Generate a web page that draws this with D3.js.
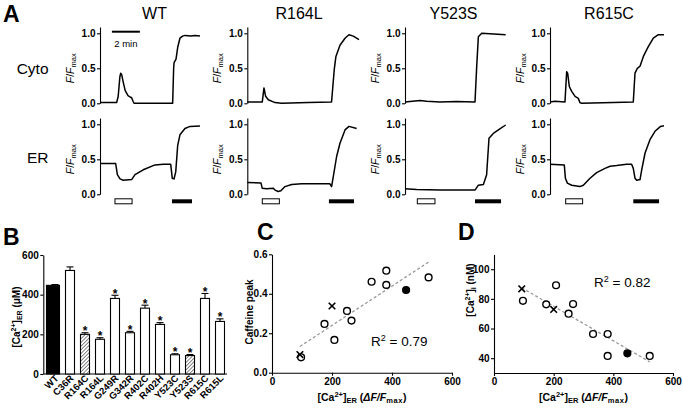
<!DOCTYPE html>
<html><head><meta charset="utf-8">
<script src="https://cdn.jsdelivr.net/npm/d3@7"></script>
<style>
body{margin:0;background:#fff}
svg{display:block}
text{font-family:"Liberation Sans",Arial,Helvetica,sans-serif;fill:#000}
</style>
</head><body>
<svg id="chart" width="683" height="409"></svg>
<script>
// ---------------- DATA ----------------
// Panel A: traces [time (min), F/Fmax]
const columnsA = ["WT", "R164L", "Y523S", "R615C"];
const rowsA = ["Cyto", "ER"];
const ticksA = [0, 0.5, 1.0];

const wtCyto = [[0,0.01],[1.19,0.01],[1.3,0.1],[1.42,0.38],[1.48,0.43],[1.55,0.41],[1.65,0.31],[1.8,0.18],[2.0,0.11],[2.15,0.09],[2.26,0.08],[2.36,0.03],[2.43,0.0],[5.19,0.0],[5.26,0.5],[5.29,0.58],[5.43,0.63],[5.55,0.8],[5.71,0.93],[5.9,0.96],[6.07,0.97],[6.5,0.96],[6.8,0.97],[7.14,0.96]];
const wtER = [[0,0.44],[1.12,0.44],[1.24,0.28],[1.43,0.22],[1.66,0.2],[2.26,0.21],[2.5,0.28],[3.09,0.35],[3.93,0.42],[4.52,0.43],[5.05,0.43],[5.16,0.23],[5.29,0.22],[5.41,0.32],[5.55,0.7],[5.71,0.85],[6.07,0.94],[6.43,0.97],[7.14,0.975]];
const r164lCyto = [[0,0.02],[1.07,0.02],[1.19,0.22],[1.31,0.1],[1.5,0.05],[1.98,0.01],[2.45,0.0],[4.36,0.01],[6.02,0.02],[6.21,0.48],[6.33,0.67],[6.62,0.83],[6.98,0.93],[7.26,0.98],[7.57,0.96],[7.98,0.91]];
const r164lER = [[0,0.17],[0.98,0.16],[1.07,0.085],[1.38,0.08],[1.86,0.085],[1.98,0.06],[2.21,0.04],[2.4,0.05],[2.69,0.11],[3.17,0.14],[3.88,0.15],[5.55,0.15],[5.9,0.15],[6.02,0.11],[6.14,0.25],[6.38,0.54],[6.62,0.73],[6.98,0.92],[7.26,0.97],[7.81,0.94]];
const y523sCyto = [[0,0.02],[1.07,0.04],[1.55,0.03],[2.5,0.02],[3.69,0.025],[5.0,0.02],[5.12,0.52],[5.24,0.95],[5.48,1.0],[7.19,0.98]];
const y523sER = [[0,0.08],[0.83,0.07],[2.5,0.06],[5.0,0.06],[5.24,0.13],[5.6,0.14],[5.83,0.28],[6.0,0.8],[6.31,0.87],[6.67,0.92],[7.19,0.99]];
const r615cCyto = [[0,0.02],[0.36,0.03],[1.07,0.02],[1.19,0.45],[1.26,0.43],[1.38,0.24],[1.55,0.17],[1.79,0.1],[2.02,0.07],[2.14,0.01],[2.26,0.0],[4.52,0.01],[5.95,0.02],[6.07,0.43],[6.24,0.5],[6.43,0.53],[6.67,0.67],[7.02,0.81],[7.38,0.93],[7.74,0.98],[8.14,0.98]];
const r615cER = [[0,0.43],[1.02,0.42],[1.1,0.23],[1.24,0.16],[1.55,0.13],[1.9,0.12],[2.14,0.11],[2.38,0.13],[2.86,0.23],[3.33,0.31],[3.93,0.37],[4.29,0.4],[4.76,0.41],[5.48,0.43],[5.83,0.43],[5.95,0.37],[6.07,0.23],[6.19,0.2],[6.43,0.21],[6.55,0.35],[6.79,0.59],[7.14,0.78],[7.5,0.9],[7.9,0.97],[8.14,0.98]];
// stimulus periods (min): caffeine (open bar) and ionomycin (filled bar)
const caffeineBars = [[1.07,2.29],[1.07,2.29],[0.88,2.14],[1.12,2.33]];
const ionoBars = [[5.14,6.57],[5.83,7.62],[5.0,6.86],[5.95,7.79]];

// Panel B
const mutants = ["WT","C36R","R164C","R164L","G249R","G342R","R402C","R402H","Y523C","Y523S","R615C","R615L"];
const caER = [447, 522, 200, 175, 381, 208, 332, 250, 97, 93, 381, 265];
const caERerr = [4, 18, 8, 8, 16, 7, 15, 9, 5, 5, 25, 13];
const hatched = ["R164C","Y523S"];
const starred = ["R164C","R164L","G249R","G342R","R402C","R402H","Y523C","Y523S","R615C","R615L"];
const ticksB = [0, 200, 400, 600];

// Panels C and D (x = [Ca2+]ER of each mutant)
const caffeinePeak = [0.419, 0.483, 0.338, 0.247, 0.445, 0.166, 0.461, 0.313, 0.078, 0.092, 0.517, 0.264];
const caCyto = [43.3, 41.5, 72.9, 76.3, 56.3, 89.2, 56.3, 70.0, 78.7, 86.8, 41.5, 76.5];
const crossMarked = ["R164C","Y523S"];
const filledMarked = ["WT"];
const ticksCx = [0, 200, 400, 600];
const ticksCy = [0.0, 0.2, 0.4, 0.6];
const ticksDy = [40, 60, 80, 100];
const r2C = "0.79", r2D = "0.82";

// ---------------- DRAW ----------------
const svg = d3.select("#chart");
const defs = svg.append("defs");
const pat = defs.append("pattern").attr("id","hatch").attr("patternUnits","userSpaceOnUse")
  .attr("width",2.6).attr("height",2.6).attr("patternTransform","rotate(45)");
pat.append("rect").attr("width",2.6).attr("height",2.6).attr("fill","#fff");
pat.append("line").attr("x1",0).attr("y1",0).attr("x2",0).attr("y2",2.6).attr("stroke","#444").attr("stroke-width",1.3);

function styleAxis(g, fs){
  g.attr("font-size",fs).attr("font-weight","bold");
  g.selectAll("path,line").attr("stroke","#000").attr("stroke-width",1.1);
  g.selectAll("text").attr("font-size",fs).attr("font-weight","bold")
    .attr("font-family",'"Liberation Sans",Arial,sans-serif').attr("fill","#000");
}

// panel letters
[["A",3,21.5],["B",3,245],["C",257,240],["D",458,240]].forEach(([t,x,y])=>{
  svg.append("text").attr("x",x).attr("y",y).attr("font-size",23).attr("font-weight","bold").text(t);
});

// ---- Panel A ----
const colX = [100, 247.3, 405, 550];
const pxPerMin = 14;
const rowY0 = [103.3, 194.3];
const unitPx = 70;
const traceSets = [[wtCyto, wtER],[r164lCyto, r164lER],[y523sCyto, y523sER],[r615cCyto, r615cER]];
const titleX = [154.5, 299, 453.5, 609];

rowsA.forEach((r,j)=>{
  svg.append("text").attr("x",48.5).attr("y",j===0?74:163.3).attr("text-anchor","end")
    .attr("font-size",15.5).text(r);
});

columnsA.forEach((name,i)=>{
  svg.append("text").attr("x",titleX[i]).attr("y",19.3).attr("text-anchor","middle")
    .attr("font-size",16).text(name);
  const x = d3.scaleLinear().domain([0,1]).range([colX[i], colX[i]+pxPerMin]);
  rowsA.forEach((r,j)=>{
    const y = d3.scaleLinear().domain([0,1.09]).range([rowY0[j], rowY0[j]-1.09*unitPx]);
    const ax = svg.append("g").attr("transform",`translate(${colX[i]},0)`)
      .call(d3.axisLeft(y).tickValues(ticksA).tickFormat(d3.format(".1f")).tickSize(3).tickSizeOuter(0).tickPadding(1.5));
    styleAxis(ax, 10);
    // y label F/Fmax
    const lab = svg.append("text").attr("transform",`translate(${colX[i]-26.5},${y(0.5)}) rotate(-90)`)
      .attr("text-anchor","middle").attr("font-size",10.5);
    lab.append("tspan").attr("font-style","italic").text("F");
    lab.append("tspan").text("/");
    lab.append("tspan").attr("font-style","italic").text("F");
    lab.append("tspan").attr("font-size",7.5).attr("dy",2.5).text("max");
    // trace
    svg.append("path").datum(traceSets[i][j])
      .attr("d", d3.line().x(d=>x(d[0])).y(d=>y(d[1])))
      .attr("fill","none").attr("stroke","#000").attr("stroke-width",1.5).attr("stroke-linejoin","round");
  });
  // stimulus bars
  const cb = caffeineBars[i], ib = ionoBars[i];
  svg.append("rect").attr("x",x(cb[0])).attr("y",198.8).attr("width",x(cb[1])-x(cb[0])).attr("height",5)
    .attr("fill","#fff").attr("stroke","#000").attr("stroke-width",1);
  svg.append("rect").attr("x",x(ib[0])).attr("y",199.3).attr("width",x(ib[1])-x(ib[0])).attr("height",4)
    .attr("fill","#000");
  if(i===0){
    svg.append("line").attr("x1",x(0.85)).attr("x2",x(2.85)).attr("y1",31.7).attr("y2",31.7)
      .attr("stroke","#000").attr("stroke-width",2);
    svg.append("text").attr("x",x(1.85)).attr("y",47).attr("text-anchor","middle").attr("font-size",9.5).text("2 min");
  }
});

// ---- Panel B ----
const xB = d3.scaleBand().domain(mutants).range([47, 228]).paddingInner(1/3).paddingOuter(0.2);
const yB = d3.scaleLinear().domain([0,600]).range([374, 255]);
const gBy = svg.append("g").attr("transform","translate(43.3,0)")
  .call(d3.axisLeft(yB).tickValues(ticksB).tickSize(3).tickSizeOuter(0).tickPadding(1.5));
styleAxis(gBy, 10);
svg.append("line").attr("x1",43.3).attr("x2",227).attr("y1",yB(0)).attr("y2",yB(0)).attr("stroke","#000").attr("stroke-width",1.1);

mutants.forEach((m,i)=>{
  const bx = xB(m), bw = xB.bandwidth();
  const x0 = m==="WT" ? bx-4 : bx, w = m==="WT" ? bw+4 : bw;
  const fill = m==="WT" ? "#000" : (hatched.includes(m) ? "url(#hatch)" : "#fff");
  const cx = bx + bw/2;
  // error bar
  const top = yB(caER[i]+caERerr[i]);
  svg.append("line").attr("x1",cx).attr("x2",cx).attr("y1",yB(caER[i])).attr("y2",top).attr("stroke","#000").attr("stroke-width",1.1);
  svg.append("line").attr("x1",cx-3.5).attr("x2",cx+3.5).attr("y1",top).attr("y2",top).attr("stroke","#000").attr("stroke-width",1.1);
  svg.append("rect").attr("x",x0+0.5).attr("y",yB(caER[i])).attr("width",w-1).attr("height",yB(0)-yB(caER[i]))
    .attr("fill",fill).attr("stroke","#000").attr("stroke-width",1.1);
  if(starred.includes(m)){
    svg.append("text").attr("x",cx).attr("y",top+2.5).attr("text-anchor","middle").attr("font-size",12).attr("font-weight","bold").text("*");
  }
  svg.append("text").attr("transform",`translate(${cx+4},${379}) rotate(-45)`)
    .attr("text-anchor","end").attr("font-size",9.5).attr("font-weight","bold").text(m);
});
{
  const t = svg.append("text").attr("transform","translate(19.5,317) rotate(-90)").attr("text-anchor","middle")
    .attr("font-size",10).attr("font-weight","bold");
  t.append("tspan").text("[Ca");
  t.append("tspan").attr("font-size",7).attr("dy",-4).text("2+");
  t.append("tspan").attr("dy",4).text("]");
  t.append("tspan").attr("font-size",7).attr("dy",2.5).text("ER");
  t.append("tspan").attr("dy",-2.5).text(" (\u03bcM)");
}

// ---- Panels C & D ----
function linfit(xs, ys){
  const mx=d3.mean(xs), my=d3.mean(ys); let sxy=0,sxx=0;
  xs.forEach((v,i)=>{sxy+=(v-mx)*(ys[i]-my); sxx+=(v-mx)*(v-mx);});
  const b=sxy/sxx; return {a:my-b*mx, b};
}
function xTitle(cx){
  const t = svg.append("text").attr("x",cx).attr("y",400.5).attr("text-anchor","middle")
    .attr("font-size",10.5).attr("font-weight","bold");
  t.append("tspan").text("[Ca");
  t.append("tspan").attr("font-size",7.5).attr("dy",-4).text("2+");
  t.append("tspan").attr("dy",4).text("]");
  t.append("tspan").attr("font-size",7.5).attr("dy",2.5).text("ER");
  t.append("tspan").attr("dy",-2.5).text(" (");
  t.append("tspan").attr("font-style","italic").text("\u0394F/F");
  t.append("tspan").attr("font-size",7.5).attr("dy",2.5).attr("letter-spacing",0.6).text("max");
  t.append("tspan").attr("dy",-2.5).text(")");
}
function scatter(xS, yS, ys, r2, r2x, r2y){
  const fit = linfit(caER, ys);
  const xmin = d3.min(caER), xmax = d3.max(caER);
  svg.append("line").attr("x1",xS(xmin)).attr("y1",yS(fit.a+fit.b*xmin))
    .attr("x2",xS(xmax)).attr("y2",yS(fit.a+fit.b*xmax))
    .attr("stroke","#9a9a9a").attr("stroke-width",1.3).attr("stroke-dasharray","3,2.2");
  mutants.forEach((m,i)=>{
    const px = xS(caER[i]), py = yS(ys[i]);
    if(crossMarked.includes(m)){
      const s=3.3;
      svg.append("path").attr("d",`M${px-s},${py-s}L${px+s},${py+s}M${px-s},${py+s}L${px+s},${py-s}`)
        .attr("stroke","#000").attr("stroke-width",1.6).attr("fill","none");
    } else {
      svg.append("circle").attr("cx",px).attr("cy",py).attr("r",3.4)
        .attr("fill", filledMarked.includes(m) ? "#000" : "#fff")
        .attr("stroke","#000").attr("stroke-width",1.4);
    }
  });
  const t = svg.append("text").attr("x",r2x).attr("y",r2y).attr("font-size",13.5);
  t.append("tspan").text("R");
  t.append("tspan").attr("font-size",9).attr("dy",-5).text("2");
  t.append("tspan").attr("dy",5).text(" = " + r2);
}

// C
const xC = d3.scaleLinear().domain([0,600]).range([272, 452]);
const yC = d3.scaleLinear().domain([0,0.6]).range([372.7, 254.3]);
styleAxis(svg.append("g").attr("transform",`translate(0,${yC(0)})`)
  .call(d3.axisBottom(xC).tickValues(ticksCx).tickSize(3).tickSizeOuter(0).tickPadding(2)), 10);
styleAxis(svg.append("g").attr("transform",`translate(${xC(0)},0)`)
  .call(d3.axisLeft(yC).tickValues(ticksCy).tickFormat(d3.format(".1f")).tickSize(3).tickSizeOuter(0).tickPadding(1.5)), 10);
scatter(xC, yC, caffeinePeak, r2C, 371, 346);
svg.append("text").attr("transform","translate(252.5,312) rotate(-90)").attr("text-anchor","middle")
  .attr("font-size",10).attr("font-weight","bold").text("Caffeine peak");
xTitle(362);

// D
const xD = d3.scaleLinear().domain([0,600]).range([494, 673]);
const yD = d3.scaleLinear().domain([30,110]).range([373, 254.4]);
styleAxis(svg.append("g").attr("transform",`translate(0,${yD(30)})`)
  .call(d3.axisBottom(xD).tickValues(ticksCx).tickSize(3).tickSizeOuter(0).tickPadding(2)), 10);
styleAxis(svg.append("g").attr("transform",`translate(${xD(0)},0)`)
  .call(d3.axisLeft(yD).tickValues(ticksDy).tickSize(3).tickSizeOuter(0).tickPadding(1.5)), 10);
scatter(xD, yD, caCyto, r2D, 594, 287);
{
  const t = svg.append("text").attr("transform","translate(473.5,290) rotate(-90)").attr("text-anchor","middle")
    .attr("font-size",10).attr("font-weight","bold");
  t.append("tspan").text("[Ca");
  t.append("tspan").attr("font-size",7).attr("dy",-4).text("2+");
  t.append("tspan").attr("dy",4).text("]");
  t.append("tspan").attr("font-size",7).attr("dy",2.5).text("i");
  t.append("tspan").attr("dy",-2.5).text(" (nM)");
}
xTitle(583.5);
</script>
</body></html>
